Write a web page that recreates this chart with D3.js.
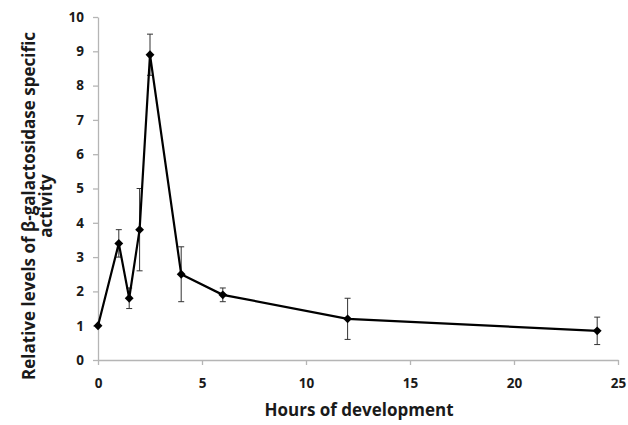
<!DOCTYPE html>
<html>
<head>
  <title>Beta-galactosidase activity</title>
  <script src="https://d3js.org/d3.v7.min.js"></script>
  <style>
    body { margin: 0; background: #fff; font-family: "Open Sans", sans-serif; }
    svg text { font-family: "Open Sans", sans-serif; font-weight: bold; fill: #1a1a1a; }
  </style>
</head>
<body>
  <div id="chart"></div>
  <script>
    // data
    let hours = [0, 1, 1.5, 2, 2.5, 4, 6, 12, 24];
    let activity = [1.0, 3.4, 1.8, 3.8, 8.9, 2.5, 1.9, 1.2, 0.85];
    let errors = [0, 0.4, 0.3, 1.2, 0.6, 0.8, 0.2, 0.6, 0.4];
    let xTicks = [0, 5, 10, 15, 20, 25];
    let yTicks = [0, 1, 2, 3, 4, 5, 6, 7, 8, 9, 10];

    let width = 628, height = 425;
    let margin = { top: 17, right: 10, bottom: 65, left: 98 };
    let innerW = 618 - margin.left;
    let innerH = 360 - margin.top;

    let svg = d3.select('#chart').append('svg')
      .attr('width', width)
      .attr('height', height);

    let g = svg.append('g')
      .attr('transform', 'translate(' + margin.left + ',' + margin.top + ')');

    let x = d3.scaleLinear().domain([0, 25]).range([0, innerW]);
    let y = d3.scaleLinear().domain([0, 10]).range([innerH, 0]);

    // axes
    let xAxis = g.append('g')
      .attr('transform', 'translate(0,' + innerH + ')')
      .call(d3.axisBottom(x).tickValues(xTicks).tickSize(5).tickPadding(13).tickSizeOuter(0));
    let yAxis = g.append('g')
      .call(d3.axisLeft(y).tickValues(yTicks).tickSize(5).tickPadding(9).tickSizeOuter(0));

    [xAxis, yAxis].forEach(a => {
      a.select('.domain').attr('stroke', '#b5b5b5').attr('stroke-width', 1.3);
      a.selectAll('.tick line').attr('stroke', '#b5b5b5').attr('stroke-width', 1.3);
      a.selectAll('.tick text').style('font-size', '13.5px');
    });

    let rows = hours.map((h, i) => ({ h: h, v: activity[i], e: errors[i] }));

    // error bars
    let eb = g.selectAll('.err')
      .data(rows.filter(d => d.e > 0))
      .enter().append('g')
      .attr('class', 'err')
      .attr('stroke', '#333')
      .attr('stroke-width', 1);
    eb.append('line')
      .attr('x1', d => x(d.h)).attr('x2', d => x(d.h))
      .attr('y1', d => y(d.v + d.e)).attr('y2', d => y(d.v - d.e));
    eb.append('line')
      .attr('x1', d => x(d.h) - 3).attr('x2', d => x(d.h) + 3)
      .attr('y1', d => y(d.v + d.e)).attr('y2', d => y(d.v + d.e));
    eb.append('line')
      .attr('x1', d => x(d.h) - 3).attr('x2', d => x(d.h) + 3)
      .attr('y1', d => y(d.v - d.e)).attr('y2', d => y(d.v - d.e));

    // line
    let line = d3.line().x(d => x(d.h)).y(d => y(d.v));
    g.append('path')
      .datum(rows)
      .attr('d', line)
      .attr('fill', 'none')
      .attr('stroke', '#000')
      .attr('stroke-width', 2.2)
      .attr('stroke-linejoin', 'miter');

    // diamond markers
    g.selectAll('.pt')
      .data(rows)
      .enter().append('path')
      .attr('class', 'pt')
      .attr('d', d3.symbol().type(d3.symbolDiamond2).size(50))
      .attr('transform', d => 'translate(' + x(d.h) + ',' + y(d.v) + ')')
      .attr('fill', '#000');

    // axis titles
    svg.append('text')
      .attr('x', 359).attr('y', 416)
      .attr('text-anchor', 'middle')
      .style('font-size', '17px')
      .text('Hours of development');

    let yt = svg.append('text')
      .attr('transform', 'translate(35,206) rotate(-90)')
      .attr('text-anchor', 'middle')
      .style('font-size', '17px');
    yt.append('tspan').attr('x', 0).attr('dy', 0).text('Relative levels of β-galactosidase specific');
    yt.append('tspan').attr('x', 0).attr('dy', 17).text('activity');
  </script>
</body>
</html>
